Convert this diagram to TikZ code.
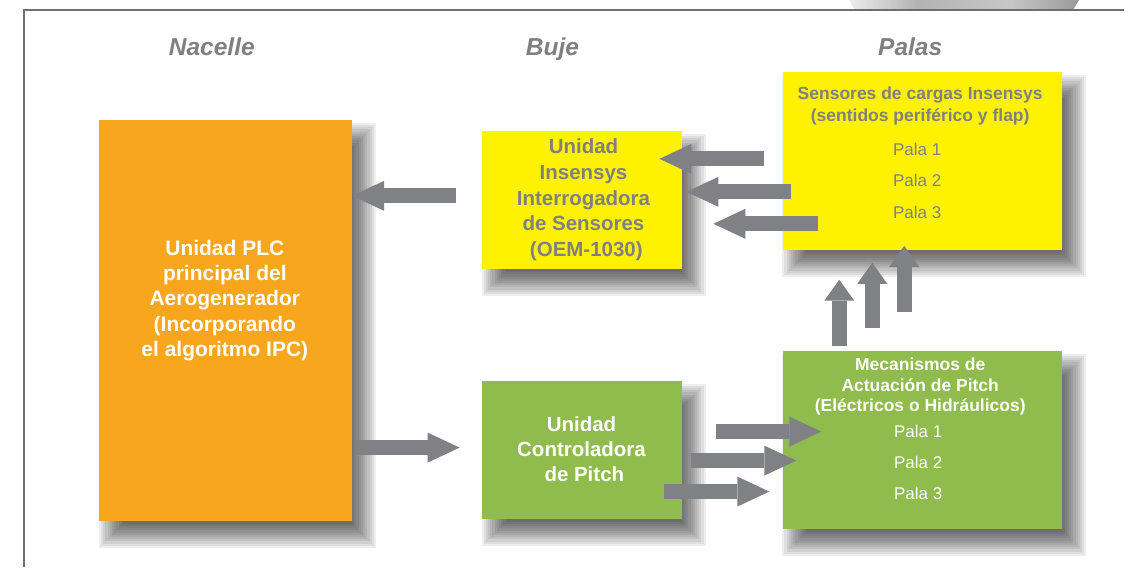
\documentclass[tikz,border=0pt]{standalone}
\usepackage{fontspec}
\setmainfont{Liberation Sans}
\usetikzlibrary{arrows.meta,calc}
\definecolor{orangeC}{HTML}{F7A61E}
\definecolor{yellowC}{HTML}{FFF200}
\definecolor{greenC}{HTML}{8FBC4C}
\definecolor{greyT}{HTML}{808080}
\definecolor{arrowC}{HTML}{808184}
\definecolor{frameC}{HTML}{6E6E6E}
\pgfdeclarehorizontalshading{blob}{100bp}{color(0bp)=(white); color(20bp)=(white); color(40bp)=(black!30); color(60bp)=(black!22); color(88bp)=(black!55); color(100bp)=(black!40)}
\pgfdeclarelayer{bg}
\pgfsetlayers{bg,main}
\newcommand\myboxshadow[1]{%
  \begin{pgfonlayer}{bg}
  \foreach \i in {0,...,11}{%
    \pgfmathsetmacro\e{12-\i*24/11}%
    \fill[black,opacity=0.065] ($(#1.north west)+(12-\e,15-\e)$) rectangle ($(#1.south east)+(12+\e,15+\e)$);
  }
  \end{pgfonlayer}}
\begin{document}
\begin{tikzpicture}[x=1pt,y=-1pt,
  box/.style={draw=none, inner sep=0pt, anchor=north west},
  hdr/.style={anchor=base, text=greyT, inner sep=0pt, font=\bfseries\itshape\fontsize{24.5}{28}\selectfont},
  btxt/.style={anchor=north, align=center, inner sep=0pt},
  harrow/.style={draw=arrowC, line width=15pt, -{Triangle[length=32pt,width=30pt,line width=0pt]}},
  varrow/.style={draw=arrowC, line width=15pt, -{Triangle[length=21pt,width=30pt,line width=0pt]}}
]
\begin{pgfonlayer}{bg}
\useasboundingbox (0,0) rectangle (1125,567);
\fill[white] (0,0) rectangle (1125,567);
\end{pgfonlayer}

% top-right grey shape
\shade[shading=blob] (850,0) -- (1080,0) -- (1074,10) -- (856,10) -- cycle;
% frame
\draw[frameC, line width=2pt] (1125,10) -- (24,10) -- (24,567);

% headers
\node[hdr] (nacelle) at (212,56) {Nacelle};
\node[hdr] (buje) at (553,56) {Buje};
\node[hdr] (palas) at (911,56) {Palas};

% boxes
\node[box, fill=orangeC, minimum width=253pt, minimum height=401pt] (plc) at (99,120) {};
\node[box, fill=yellowC, minimum width=200pt, minimum height=138pt] (ins) at (482,131) {};
\node[box, fill=greenC, minimum width=200pt, minimum height=138pt] (ctrl) at (482,381) {};
\node[box, fill=yellowC, minimum width=280pt, minimum height=178pt] (sens) at (783,72) {};
\node[box, fill=greenC, minimum width=280pt, minimum height=178pt] (mech) at (783,351) {};
\myboxshadow{plc}
\myboxshadow{ins}
\myboxshadow{ctrl}
\myboxshadow{sens}
\myboxshadow{mech}

% box texts
\node[btxt, text=white, font=\bfseries\fontsize{21}{25.3}\selectfont] (plct) at (225,240)
  {Unidad PLC\\principal del\\Aerogenerador\\(Incorporando\\el algoritmo IPC)};
\node[btxt, text=greyT, font=\bfseries\fontsize{20.5}{25.7}\selectfont] (inst) at (584,139)
  {Unidad\\Insensys\\Interrogadora\\de Sensores\\\ (OEM-1030)};
\node[btxt, text=white, font=\bfseries\fontsize{20.5}{25}\selectfont] (ctrlt) at (582,417)
  {Unidad\\Controladora\\\ de Pitch};
\node[btxt, text=greyT, font=\bfseries\fontsize{17.5}{22}\selectfont] (senst) at (921,87)
  {Sensores de cargas Insensys\\(sentidos perif\'erico y flap)};
\node[btxt, text=greyT, font=\fontsize{17}{31.5}\selectfont] (sensp) at (918,143)
  {Pala 1\\Pala 2\\Pala 3};
\node[btxt, text=white, font=\bfseries\fontsize{17.5}{20.5}\selectfont] (mecht) at (921,358)
  {Mecanismos de\\Actuaci\'on de Pitch\\(El\'ectricos o Hidr\'aulicos)};
\node[btxt, text=white, font=\fontsize{17}{31}\selectfont] (mechp) at (919,425)
  {Pala 1\\Pala 2\\Pala 3};

% arrow end points
\coordinate (a0) at (456,196);
\coordinate (b0s) at (356,448);
\coordinate (b0e) at (460,448);
\coordinate (s1) at (765,159);
\coordinate (t1) at (660,159);
\coordinate (s2) at (792,192);
\coordinate (t2) at (687,192);
\coordinate (s3) at (819,224);
\coordinate (t3) at (714,224);
\coordinate (u1s) at (840,346);
\coordinate (u1e) at (840,280);
\coordinate (u2s) at (873,328);
\coordinate (u2e) at (873,263);
\coordinate (u3s) at (905,312);
\coordinate (u3e) at (905,246);
\coordinate (r1s) at (717,432);
\coordinate (r1e) at (822,432);
\coordinate (r2s) at (692,461);
\coordinate (r2e) at (797,461);
\coordinate (r3s) at (665,492);
\coordinate (r3e) at (770,492);

% arrows
\draw[harrow] (a0) -- (a0 -| plc.east);
\draw[harrow] (b0s) -- (b0e);
\draw[harrow] (s1) -- (t1);
\draw[harrow] (s2) -- (t2);
\draw[harrow] (s3) -- (t3);
\draw[varrow] (u1s) -- (u1e);
\draw[varrow] (u2s) -- (u2e);
\draw[varrow] (u3s) -- (u3e);
\draw[harrow] (r1s) -- (r1e);
\draw[harrow] (r2s) -- (r2e);
\draw[harrow] (r3s) -- (r3e);
\end{tikzpicture}
\end{document}
